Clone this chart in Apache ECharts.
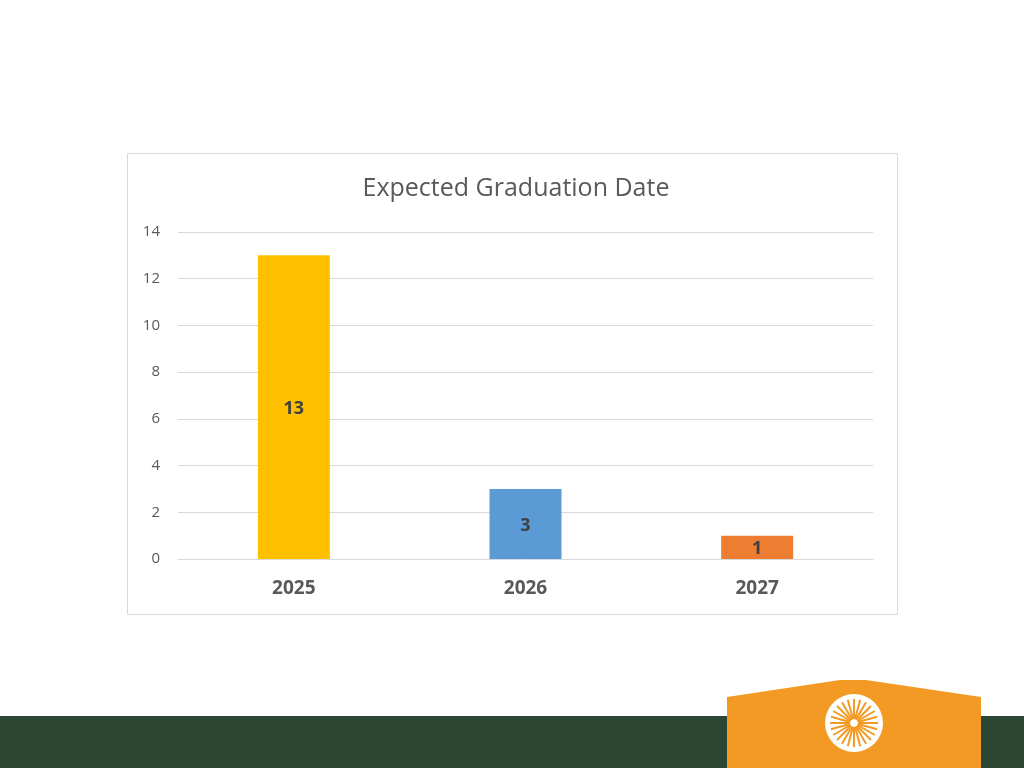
<!DOCTYPE html>
<html><head><meta charset="utf-8">
<script src="https://cdn.jsdelivr.net/npm/echarts@6/dist/echarts.min.js"></script>
<style>html,body{margin:0;padding:0;background:#fff}#c{width:1024px;height:768px}</style>
</head><body><div id="c"></div>
<script>
const categories = ['2025','2026','2027'];
const values = [13,3,1];
const colors = ['#FFC000','#5B9BD5','#ED7D31'];
const chart = echarts.init(document.getElementById('c'));
const rays = [];
for (let i=0;i<24;i++){const a=i*Math.PI/12;rays.push({type:'line',shape:{x1:854+Math.cos(a)*4,y1:723+Math.sin(a)*4,x2:854+Math.cos(a)*24,y2:723+Math.sin(a)*24},style:{stroke:'#F39A24',lineWidth:2},z:103});}
chart.setOption({
  animation:false,
  title:{text:'Expected Graduation Date',left:511,top:171,textAlign:'center',textStyle:{fontFamily:'Open Sans',fontSize:25,fontWeight:'normal',color:'#595959'}},
  grid:{left:178,right:151,top:232,bottom:209},
  xAxis:{type:'category',data:categories,axisTick:{show:false},axisLine:{lineStyle:{color:'#D9D9D9'}},axisLabel:{fontFamily:'Open Sans',fontWeight:'bold',fontSize:19,color:'#595959',margin:20}},
  yAxis:{type:'value',min:0,max:14,interval:2,splitLine:{lineStyle:{color:'#D9D9D9'}},axisLabel:{fontFamily:'Open Sans',fontSize:15,color:'#595959',margin:18}},
  series:[{type:'bar',barWidth:72,data:values.map((v,i)=>({value:v,itemStyle:{color:colors[i]}})),label:{show:true,position:'inside',offset:[0,2],fontFamily:'Open Sans',fontWeight:'bold',fontSize:18,color:'#404040'}}],
  graphic:[
    {type:'rect',shape:{x:127.5,y:153.5,width:770,height:461},style:{fill:'none',stroke:'#D9D9D9',lineWidth:1},z:-1},
    {type:'rect',shape:{x:0,y:716,width:1024,height:52},style:{fill:'#2B4734'},z:100},
    {type:'polygon',shape:{points:[[727,697],[840,680],[866,680],[981,697],[981,768],[727,768]]},style:{fill:'#F39A24'},z:101},
    {type:'circle',shape:{cx:854,cy:723,r:29},style:{fill:'#fff'},z:102},
    ...rays
  ]
});
</script></body></html>
